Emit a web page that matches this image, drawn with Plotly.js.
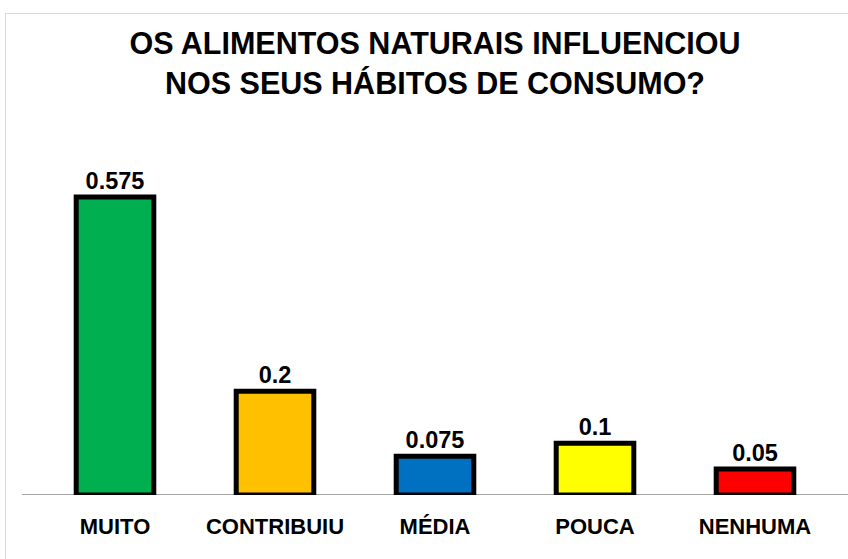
<!DOCTYPE html>
<html>
<head>
<meta charset="utf-8">
<script src="https://cdn.plot.ly/plotly-3.0.1.min.js"></script>
<style>
html,body{margin:0;padding:0;background:#fff;}
#chart{width:848px;height:559px;}
</style>
</head>
<body>
<div id="chart"></div>
<script>
const categories = ["MUITO", "CONTRIBUIU", "MÉDIA", "POUCA", "NENHUMA"];
const values = [0.575, 0.2, 0.075, 0.1, 0.05];
const labels = ["0.575", "0.2", "0.075", "0.1", "0.05"];
const barColors = ["#00B050", "#FFC000", "#0070C0", "#FFFF00", "#FF0000"];

const FONT = '"Liberation Sans", Arial, sans-serif';

const L = 35, R = 13, T = 140, B = 64;
const W = 848, H = 559;
const pw = W - L - R, ph = H - T - B;
function px2x(p){ return (p - L) / pw; }
function py2y(p){ return (H - B - p) / ph; }

const trace = {
  type: 'bar',
  x: categories,
  y: values,
  text: labels,
  textposition: 'outside',
  texttemplate: '%{text}',
  cliponaxis: false,
  textfont: {family: FONT, size: 23.5, color: '#000', weight: 'bold'},
  marker: {color: barColors, line: {color: '#000', width: 5}},
  width: 0.485,
  hoverinfo: 'none'
};

const layout = {
  width: W, height: H,
  margin: {l: L, r: R, t: T, b: B},
  paper_bgcolor: '#fff',
  plot_bgcolor: '#fff',
  showlegend: false,
  title: {
    text: 'OS ALIMENTOS NATURAIS INFLUENCIOU<br>NOS SEUS HÁBITOS DE CONSUMO?',
    font: {family: FONT, size: 30.5, color: '#000', weight: 'bold'},
    x: 0.5, xref: 'paper', xanchor: 'center',
    y: 1 - 54/H, yref: 'container', yanchor: 'middle'
  },
  xaxis: {
    showline: false, showgrid: false, zeroline: false, ticks: '',
    ticklabelstandoff: 16,
    tickfont: {family: FONT, size: 22, color: '#000', weight: 'bold'},
    fixedrange: true
  },
  yaxis: {
    range: [0, 0.685], showticklabels: false, showgrid: false,
    zeroline: false, showline: false, ticks: '', fixedrange: true
  },
  shapes: [
    {type: 'line', xref: 'paper', yref: 'y', x0: px2x(22), x1: px2x(860), y0: 0, y1: 0,
     line: {color: '#A6A6A6', width: 2}, layer: 'below'},
    {type: 'rect', xref: 'paper', yref: 'paper', x0: px2x(5.5), x1: px2x(900), y0: py2y(13.5), y1: py2y(600),
     line: {color: '#D9D9D9', width: 1}, fillcolor: 'rgba(0,0,0,0)', layer: 'below'}
  ]
};

Plotly.newPlot('chart', [trace], layout, {displayModeBar: false, staticPlot: true});
</script>
</body>
</html>
